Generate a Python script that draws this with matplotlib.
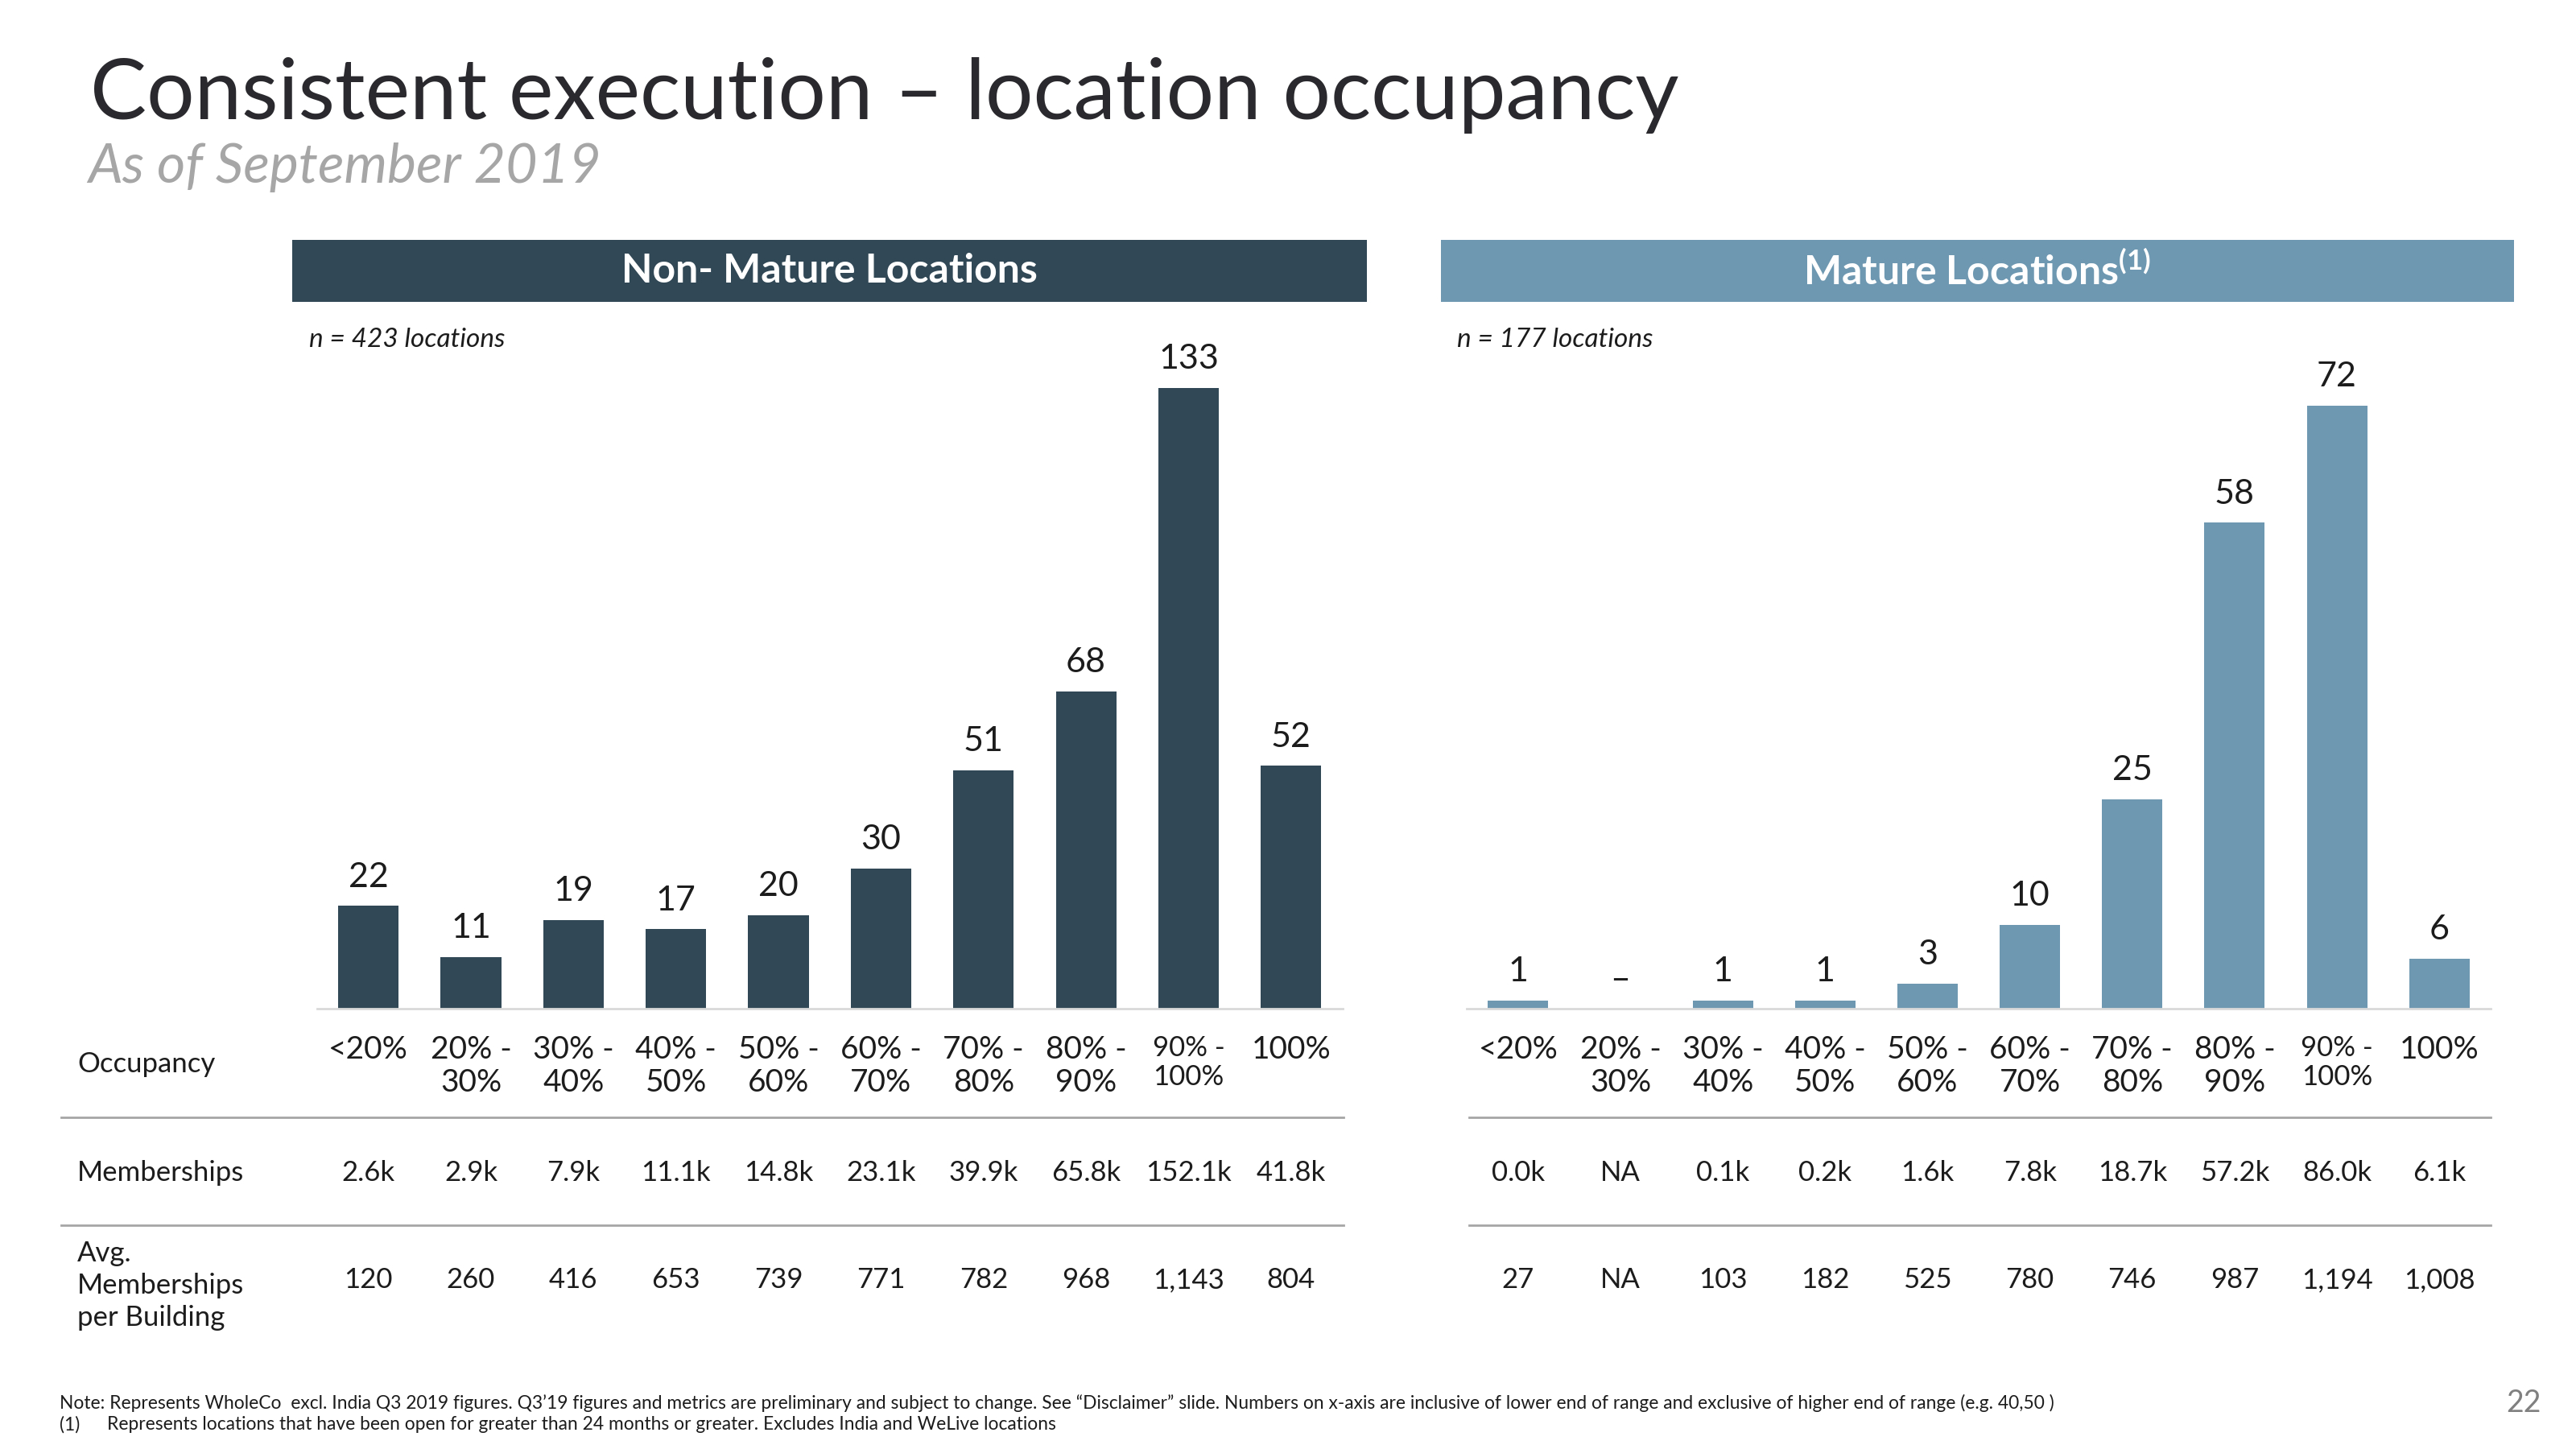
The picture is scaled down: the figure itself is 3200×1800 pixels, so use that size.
import matplotlib
matplotlib.use('Agg')
import matplotlib.pyplot as plt
import matplotlib.transforms as mtransforms
from matplotlib.patches import Rectangle
from matplotlib.lines import Line2D
import numpy as np

# data
occupancy_labels = ['<20%', '20% -\n30%', '30% -\n40%', '40% -\n50%', '50% -\n60%',
                    '60% -\n70%', '70% -\n80%', '80% -\n90%', '90% -\n100%', '100%']
non_mature_counts = [22, 11, 19, 17, 20, 30, 51, 68, 133, 52]
mature_counts = [1, 0, 1, 1, 3, 10, 25, 58, 72, 6]
non_mature_memberships = ['2.6k', '2.9k', '7.9k', '11.1k', '14.8k', '23.1k', '39.9k', '65.8k', '152.1k', '41.8k']
mature_memberships = ['0.0k', 'NA', '0.1k', '0.2k', '1.6k', '7.8k', '18.7k', '57.2k', '86.0k', '6.1k']
non_mature_avg = ['120', '260', '416', '653', '739', '771', '782', '968', '1,143', '804']
mature_avg = ['27', 'NA', '103', '182', '525', '780', '746', '987', '1,194', '1,008']

DARK = '#314856'
LIGHT = '#6e98b1'
TEXT = '#1c1c1c'
GREY = '#a6a6a6'

plt.rcParams['font.family'] = ['Lato', 'DejaVu Sans']
plt.rcParams['mathtext.fontset'] = 'custom'
plt.rcParams['mathtext.rm'] = 'Lato'
plt.rcParams['mathtext.bf'] = 'Lato:bold'

fig = plt.figure(figsize=(16, 9), dpi=200)

fig.text(0.035, 0.9178, 'Consistent execution \u2013 location occupancy', fontsize=37.8,
         color='#2a2a2e', va='baseline', ha='left')
fig.text(0.034, 0.8739, 'As of September 2019', fontsize=24.5, style='italic',
         color=GREY, va='baseline', ha='left')

panels = [
    dict(rect=[0.1231, 0.3039, 0.3980, 0.4694], counts=non_mature_counts, color=DARK, ymax=145.7,
         header=(0.1135, 0.4171, 'Non- Mature Locations'), n_text=(0.1199, 'n = 423 locations'),
         members=non_mature_memberships, avg=non_mature_avg, line=(0.0236, 0.5217)),
    dict(rect=[0.5695, 0.3039, 0.3973, 0.4694], counts=mature_counts, color=LIGHT, ymax=81.2,
         header=(0.5593, 0.4165, 'Mature Locations$^{\\mathbf{(1)}}$'), n_text=(0.5657, 'n = 177 locations'),
         members=mature_memberships, avg=mature_avg, line=(0.5702, 0.9668)),
]

for p in panels:
    ax = fig.add_axes(p['rect'])
    x = np.arange(len(p['counts']))
    bars = ax.bar(x, p['counts'], width=0.59, color=p['color'], zorder=2)
    ax.set_xlim(-0.5, 9.5)
    ax.set_ylim(0, p['ymax'])
    for s in ['top', 'right', 'left']:
        ax.spines[s].set_visible(False)
    ax.spines['bottom'].set_color('#d9d9d9')
    ax.spines['bottom'].set_linewidth(1.0)
    ax.set_yticks([])
    ax.set_xticks(x)
    ax.set_xticklabels(occupancy_labels, fontsize=14, color=TEXT, va='top', linespacing=1.15)
    ax.tick_params(axis='x', length=0, pad=12)
    ax.get_xticklabels()[8].set_fontsize(12.5)

    for rect, val in zip(bars, p['counts']):
        label = str(val) if val else '\u2013'
        ax.annotate(label, xy=(rect.get_x() + rect.get_width() / 2, rect.get_height()),
                    xytext=(0, 8.6), textcoords='offset points',
                    ha='center', va='baseline', fontsize=15.5, color=TEXT)

    # header bar
    hx, hw, htitle = p['header']
    fig.add_artist(Rectangle((hx, 0.7914), hw, 0.0431, transform=fig.transFigure,
                             facecolor=p['color'], edgecolor='none'))
    fig.text(hx + hw / 2, 0.8129, htitle, color='white', fontsize=18, fontweight='bold',
             ha='center', va='center')
    fig.text(p['n_text'][0], 0.7653, p['n_text'][1], fontsize=12, style='italic',
             color=TEXT, ha='left', va='center')

    # table rows under the chart
    trans = mtransforms.blended_transform_factory(ax.transData, fig.transFigure)
    for xi, m, a in zip(x, p['members'], p['avg']):
        ax.text(xi, 0.1905, m, transform=trans, ha='center', va='center', fontsize=12.5,
                color=TEXT, clip_on=False)
        ax.text(xi, 0.1168, a, transform=trans, ha='center', va='center', fontsize=12.5,
                color=TEXT, clip_on=False)

    x0, x1 = p['line']
    for ly in [0.2290, 0.1542]:
        fig.add_artist(Line2D([x0, x1], [ly, ly], transform=fig.transFigure,
                              color=GREY, linewidth=1.0))

fig.text(0.030, 0.2653, 'Occupancy', fontsize=12.5, color=TEXT, va='center', ha='left')
fig.text(0.030, 0.1905, 'Memberships', fontsize=12.5, color=TEXT, va='center', ha='left')
fig.text(0.030, 0.1128, 'Avg.\nMemberships\nper Building', fontsize=12.5, color=TEXT,
         va='center', ha='left', linespacing=1.3)

fig.text(0.0231, 0.0317,
         'Note: Represents WholeCo  excl. India Q3 2019 figures. Q3\u201919 figures and metrics are preliminary '
         'and subject to change. See \u201cDisclaimer\u201d slide. Numbers on x-axis are inclusive of lower end '
         'of range and exclusive of higher end of range (e.g. 40,50 )',
         fontsize=8.2, color=TEXT, va='center', ha='left')
fig.text(0.0231, 0.0167, '(1)', fontsize=8.2, color=TEXT, va='center', ha='left')
fig.text(0.0416, 0.0167, 'Represents locations that have been open for greater than 24 months or greater. '
         'Excludes India and WeLive locations', fontsize=8.2, color=TEXT, va='center', ha='left')
fig.text(0.9865, 0.0317, '22', fontsize=13.5, color='#808080', va='center', ha='right')

fig.savefig('out.png', dpi=200)
plt.close(fig)
